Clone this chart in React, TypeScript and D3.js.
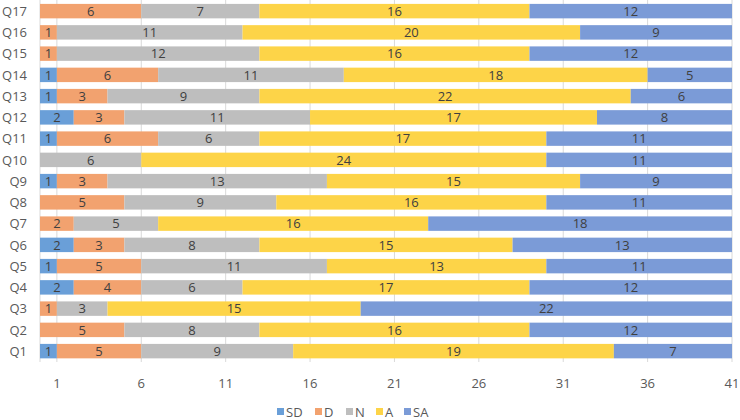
import React from "react";
import * as d3 from "d3";

const questions = ["Q1","Q2","Q3","Q4","Q5","Q6","Q7","Q8","Q9","Q10","Q11","Q12","Q13","Q14","Q15","Q16","Q17"];
const seriesNames = ["SD", "D", "N", "A", "SA"];
const SD = [1,0,0,2,1,2,0,0,1,0,1,2,1,1,0,0,0];
const D  = [5,5,1,4,5,3,2,5,3,0,6,3,3,6,1,1,6];
const N  = [9,8,3,6,11,8,5,9,13,6,6,11,9,11,12,11,7];
const A  = [19,16,15,17,13,15,16,16,15,24,17,17,22,18,16,20,16];
const SA = [7,12,22,12,11,13,18,11,9,11,11,8,6,5,12,9,12];
const xTicks = [1, 6, 11, 16, 21, 26, 31, 36, 41];
const colors = ["#6A9FD8", "#F2A26F", "#BEBEBE", "#FDD448", "#7B9BD7"];

const W = 740, H = 420;
const FONT = "'Open Sans', 'Liberation Sans', sans-serif";

export default function App() {
  const rows = questions.map((q, i) => ({ q, SD: SD[i], D: D[i], N: N[i], A: A[i], SA: SA[i] }));
  const stack = d3.stack<any>().keys(seriesNames)(rows);
  const x = d3.scaleLinear().domain([0, 41]).range([40, 732]);
  const y = d3.scaleBand<string>()
    .domain([...questions].reverse())
    .range([0.5, 361.75])
    .paddingInner(0.32)
    .paddingOuter(0.16);
  const bw = y.bandwidth();

  const legendX = [277, 315, 346, 376, 404];

  return (
    <svg width={W} height={H} style={{ position: "absolute", left: 0, top: 0, background: "#fff" }}>
      <rect width={W} height={H} fill="#fff" />
      {xTicks.map(t => (
        <line key={t} x1={x(t)} x2={x(t)} y1={0} y2={362} stroke="#D9D9D9" strokeWidth={1} />
      ))}
      <line x1={40} x2={40} y1={0} y2={362} stroke="#D9D9D9" strokeWidth={1} />
      {stack.map((s, si) => (
        <g key={s.key}>
          {s.map((d, i) => {
            const v = d[1] - d[0];
            if (v <= 0) return null;
            const q = (d.data as any).q;
            const y0 = y(q)!;
            return (
              <g key={i}>
                <rect x={x(d[0])} y={y0} width={x(d[1]) - x(d[0])} height={bw} fill={colors[si]} />
                <text x={(x(d[0]) + x(d[1])) / 2} y={y0 + bw / 2} dy="0.36em" textAnchor="middle"
                  fontFamily={FONT} fontSize={13} fill="#404040">{v}</text>
              </g>
            );
          })}
        </g>
      ))}
      {questions.map(q => (
        <text key={q} x={27} y={y(q)! + bw / 2} dy="0.36em" textAnchor="end"
          fontFamily={FONT} fontSize={13} fill="#595959">{q}</text>
      ))}
      {xTicks.map(t => (
        <text key={t} x={x(t)} y={383} dy="0.36em" textAnchor="middle"
          fontFamily={FONT} fontSize={13} fill="#595959">{t}</text>
      ))}
      {seriesNames.map((n, i) => (
        <g key={n}>
          <rect x={legendX[i]} y={408} width={7} height={7} fill={colors[i]} />
          <text x={legendX[i] + 9} y={412} dy="0.36em" fontFamily={FONT} fontSize={13} fill="#595959">{n}</text>
        </g>
      ))}
    </svg>
  );
}
